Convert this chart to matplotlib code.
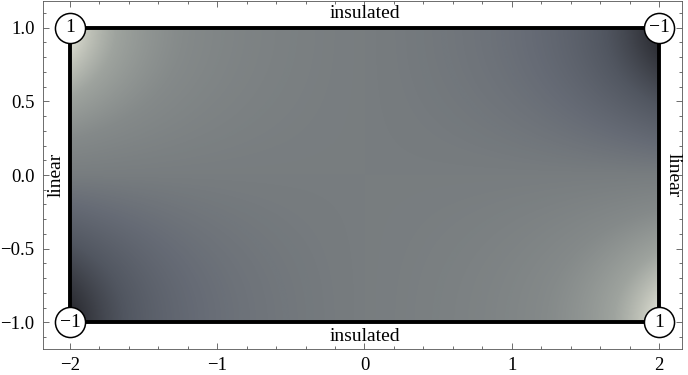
import numpy as np
import matplotlib
matplotlib.use("Agg")
import matplotlib.pyplot as plt
from matplotlib.colors import LinearSegmentedColormap
from matplotlib.ticker import MultipleLocator

plt.rcParams['font.family'] = ['Liberation Serif', 'DejaVu Serif']

# Problem setup (rectangle, boundary conditions, corner values)
x_range = [-2, 2]
y_range = [-1, 1]
corner_x = [-2, 2, -2, 2]
corner_y = [1, 1, -1, -1]
corner_values = ["1", "\u22121", "\u22121", "1"]
edge_labels = ["insulated", "insulated", "linear", "linear"]
x_ticks = [-2, -1, 0, 1, 2]
y_ticks = [-1.0, -0.5, 0.0, 0.5, 1.0]

# Steady state: u(-2,y)=y, u(2,y)=-y, du/dy=0 on top/bottom (cosine series)
nx, ny = 600, 300
xs = np.linspace(x_range[0], x_range[1], nx)
ys = np.linspace(y_range[0], y_range[1], ny)
X, Y = np.meshgrid(xs, ys)
U = np.zeros_like(X)
for n in range(1, 190, 2):
    k = n * np.pi / 2
    a = -8.0 / (n * n * np.pi ** 2)
    U += -a * np.cos(k * (Y + 1)) * np.sinh(k * X) / np.sinh(2 * k)

cmap = LinearSegmentedColormap.from_list("mma", [
    (0.00, (0.13, 0.13, 0.15)),
    (0.15, (0.23, 0.24, 0.27)),
    (0.27, (0.32, 0.34, 0.38)),
    (0.40, (0.40, 0.42, 0.46)),
    (0.50, (0.47, 0.49, 0.50)),
    (0.62, (0.52, 0.54, 0.54)),
    (0.76, (0.62, 0.64, 0.62)),
    (0.88, (0.77, 0.78, 0.74)),
    (1.00, (0.93, 0.93, 0.89)),
])

fig = plt.figure(figsize=(6.88, 3.75), dpi=100)
ax = fig.add_axes([43/688, 26/375, (682-43)/688, (374-26)/375])
ax.imshow(U, extent=[x_range[0], x_range[1], y_range[0], y_range[1]], origin='lower',
          cmap=cmap, vmin=-1, vmax=1, aspect='auto', interpolation='bilinear', zorder=1)
ax.plot([x_range[0], x_range[1], x_range[1], x_range[0], x_range[0]],
        [y_range[0], y_range[0], y_range[1], y_range[1], y_range[0]],
        color='black', lw=2.8, zorder=3, solid_joinstyle='miter')
ax.scatter(corner_x, corner_y, s=470, facecolor='white', edgecolor='black', linewidths=1.1, zorder=4)
for cx, cy, cv in zip(corner_x, corner_y, corner_values):
    ax.text(cx, cy, cv, ha='center', va='center', fontsize=14, zorder=5)

ax.text(0, 1.095, edge_labels[0], ha='center', va='center', fontsize=14)
ax.text(0, -1.095, edge_labels[1], ha='center', va='center', fontsize=14)
ax.text(-2.095, 0, edge_labels[2], ha='center', va='center', fontsize=14, rotation=90)
ax.text(2.095, 0, edge_labels[3], ha='center', va='center', fontsize=14, rotation=-90)

ax.set_xlim(-2.183, 2.156)
ax.set_ylim(-1.18, 1.18)
ax.set_xticks(x_ticks)
ax.set_yticks(y_ticks)
ax.set_xticklabels([f"{v:g}".replace('-', '\u2212') for v in x_ticks])
ax.set_yticklabels([f"{v:.1f}".replace('-', '\u2212') for v in y_ticks])
ax.xaxis.set_minor_locator(MultipleLocator(0.2))
ax.yaxis.set_minor_locator(MultipleLocator(0.1))
ax.tick_params(which='both', direction='in', top=True, right=True, color='#555555', width=0.6)
ax.tick_params(which='major', length=4, labelsize=13.5, pad=6)
ax.tick_params(which='minor', length=2.2)
for sp in ax.spines.values():
    sp.set_color('#555555')
    sp.set_linewidth(0.6)

fig.savefig('out.png', dpi=100)
